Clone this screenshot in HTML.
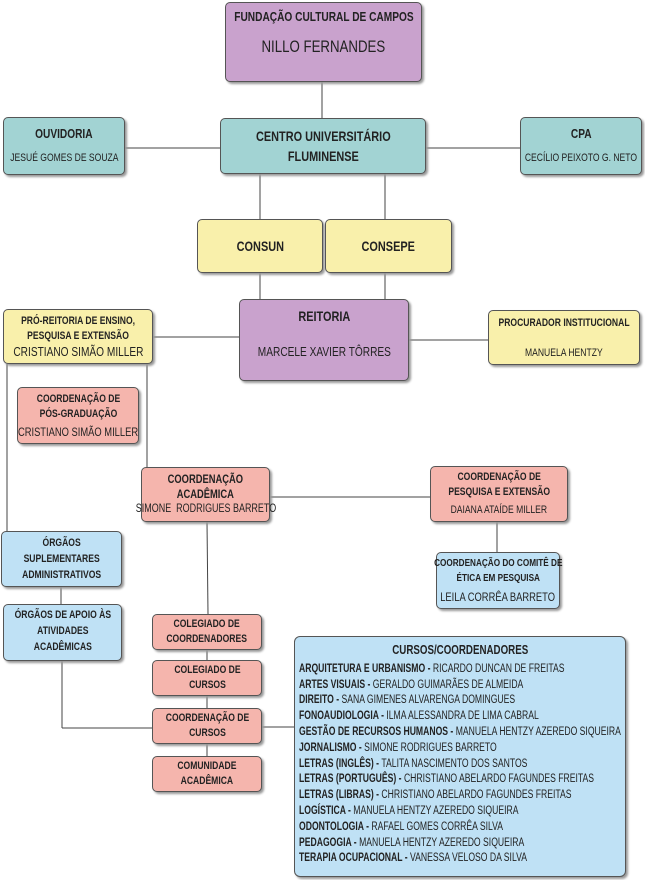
<!DOCTYPE html>
<html><head><meta charset="utf-8">
<style>
body{margin:0;width:645px;height:880px;background:#fff;position:relative;overflow:hidden;font-family:"Liberation Sans",sans-serif;color:#222}
.b{position:absolute;box-sizing:border-box;border:1.5px solid #555;border-radius:5px;box-shadow:2px 2px 2px #999;text-align:center;font-size:11px;line-height:16px;display:flex;flex-direction:column;justify-content:center;align-items:center;overflow:visible}
.b span{display:inline-block;white-space:nowrap;transform:scaleX(.78);flex-shrink:0}
.t{font-weight:bold}
.p{background:#c9a2cd}.g{background:#a2d3d3}.y{background:#f9f0ab}.r{background:#f5b5ad}.l{background:#bfe1f5}
svg{position:absolute;left:0;top:0}
.c{position:absolute;left:294px;top:636px;width:332px;height:241px;box-sizing:border-box;border:1.5px solid #555;border-radius:6px;background:#bfe1f5;box-shadow:2px 2px 2px #999;font-size:11.5px;line-height:15.8px;padding:5px 0 0 4px;white-space:nowrap}
.c .in{transform:scaleX(.75);transform-origin:0 0;width:430px}
.c b{font-weight:bold}
</style></head><body>
<svg width="645" height="880"><g stroke="#444" stroke-width="1" fill="none">
<line x1="322" y1="82" x2="322" y2="118"/>
<line x1="125" y1="148" x2="220" y2="148"/>
<line x1="426" y1="148" x2="520" y2="148"/>
<line x1="260" y1="174" x2="260" y2="219"/>
<line x1="385" y1="174" x2="385" y2="219"/>
<line x1="260" y1="273" x2="260" y2="299"/>
<line x1="385" y1="273" x2="385" y2="299"/>
<line x1="153" y1="337" x2="239" y2="337"/>
<line x1="409" y1="340" x2="488" y2="340"/>
<line x1="7" y1="364" x2="7" y2="531"/>
<line x1="147" y1="364" x2="147" y2="467"/>
<line x1="270" y1="497" x2="430" y2="497"/>
<line x1="497" y1="522" x2="497" y2="552"/>
<line x1="207" y1="522" x2="208" y2="614"/>
<line x1="207" y1="650" x2="207" y2="756"/>
<line x1="61" y1="587" x2="61" y2="604"/>
<line x1="62" y1="661" x2="62" y2="728"/>
<line x1="62" y1="728" x2="152" y2="728"/>
<line x1="262" y1="727" x2="294" y2="727"/>
</g></svg>
<div class="b p" style="left:225px;top:2px;width:197px;height:80px;justify-content:flex-start;padding-top:6px"><span class="t" style="font-size:13px">FUNDAÇÃO CULTURAL DE CAMPOS</span><span style="font-size:17px;margin-top:14px">NILLO FERNANDES</span></div>
<div class="b g" style="left:3px;top:117px;width:122px;height:58px"><span class="t" style="font-size:13px">OUVIDORIA</span><span style="margin-top:8px">JESUÉ GOMES DE SOUZA</span></div>
<div class="b g" style="left:220px;top:118px;width:206px;height:56px;font-size:14px;line-height:20px"><span class="t">CENTRO UNIVERSITÁRIO<br>FLUMINENSE</span></div>
<div class="b g" style="left:520px;top:117px;width:122px;height:58px"><span class="t" style="font-size:13px">CPA</span><span style="margin-top:8px">CECÍLIO PEIXOTO G. NETO</span></div>
<div class="b y" style="left:197px;top:219px;width:126px;height:54px"><span class="t" style="font-size:14px">CONSUN</span></div>
<div class="b y" style="left:325px;top:219px;width:127px;height:54px"><span class="t" style="font-size:14px">CONSEPE</span></div>
<div class="b p" style="left:239px;top:299px;width:170px;height:82px;justify-content:flex-start;padding-top:8px"><span class="t" style="font-size:14px">REITORIA</span><span style="font-size:13px;margin-top:20px">MARCELE XAVIER TÔRRES</span></div>
<div class="b y" style="left:3px;top:309px;width:150px;height:55px;line-height:15px"><span class="t">PRÓ-REITORIA DE ENSINO,<br>PESQUISA E EXTENSÃO</span><span style="font-size:13px">CRISTIANO SIMÃO MILLER</span></div>
<div class="b y" style="left:488px;top:310px;width:152px;height:55px"><span class="t">PROCURADOR INSTITUCIONAL</span><span style="margin-top:14px">MANUELA HENTZY</span></div>
<div class="b r" style="left:17px;top:387px;width:122px;height:57px;line-height:15px"><span class="t">COORDENAÇÃO DE<br>PÓS-GRADUAÇÃO</span><span style="font-size:12px;margin-top:3px">CRISTIANO SIMÃO MILLER</span></div>
<div class="b r" style="left:141px;top:467px;width:129px;height:55px;line-height:15px"><span class="t" style="font-size:12px">COORDENAÇÃO<br>ACADÊMICA</span><span style="font-size:11.5px">SIMONE &nbsp;RODRIGUES BARRETO</span></div>
<div class="b r" style="left:430px;top:466px;width:138px;height:56px;line-height:15px"><span class="t">COORDENAÇÃO DE<br>PESQUISA E EXTENSÃO</span><span style="margin-top:3px">DAIANA ATAÍDE MILLER</span></div>
<div class="b l" style="left:436px;top:552px;width:124px;height:57px;line-height:15px"><span class="t" style="font-size:10.5px">COORDENAÇÃO DO COMITÊ DE<br>ÉTICA EM PESQUISA</span><span style="margin-top:4px;font-size:12px">LEILA CORRÊA BARRETO</span></div>
<div class="b l" style="left:1px;top:531px;width:121px;height:56px"><span class="t">ÓRGÃOS<br>SUPLEMENTARES<br>ADMINISTRATIVOS</span></div>
<div class="b l" style="left:3px;top:604px;width:119px;height:57px;justify-content:flex-start;padding-top:2px"><span class="t">ÓRGÃOS DE APOIO ÀS<br>ATIVIDADES<br>ACADÊMICAS</span></div>
<div class="b r" style="left:152px;top:614px;width:110px;height:36px;line-height:15px"><span class="t">COLEGIADO DE<br>COORDENADORES</span></div>
<div class="b r" style="left:152px;top:660px;width:110px;height:36px;line-height:15px"><span class="t">COLEGIADO DE<br>CURSOS</span></div>
<div class="b r" style="left:152px;top:708px;width:110px;height:36px;line-height:15px"><span class="t">COORDENAÇÃO DE<br>CURSOS</span></div>
<div class="b r" style="left:152px;top:756px;width:110px;height:36px;line-height:15px"><span class="t">COMUNIDADE<br>ACADÊMICA</span></div>
<div class="c"><div class="in">
<div style="text-align:center;font-weight:bold;font-size:13px;margin-bottom:4px;width:430px">CURSOS/COORDENADORES</div>
<div><b>ARQUITETURA E URBANISMO - </b> RICARDO DUNCAN DE FREITAS</div>
<div><b>ARTES VISUAIS - </b>GERALDO GUIMARÃES DE ALMEIDA</div>
<div><b>DIREITO - </b>SANA GIMENES ALVARENGA DOMINGUES</div>
<div><b>FONOAUDIOLOGIA - </b>ILMA ALESSANDRA DE LIMA CABRAL</div>
<div><b>GESTÃO DE RECURSOS HUMANOS - </b>MANUELA HENTZY AZEREDO SIQUEIRA</div>
<div><b>JORNALISMO - </b>SIMONE RODRIGUES BARRETO</div>
<div><b>LETRAS (INGLÊS) - </b>TALITA NASCIMENTO DOS SANTOS</div>
<div><b>LETRAS (PORTUGUÊS) - </b>CHRISTIANO ABELARDO FAGUNDES FREITAS</div>
<div><b>LETRAS (LIBRAS) - </b> CHRISTIANO ABELARDO FAGUNDES FREITAS</div>
<div><b>LOGÍSTICA - </b>MANUELA HENTZY AZEREDO SIQUEIRA</div>
<div><b>ODONTOLOGIA - </b>RAFAEL GOMES CORRÊA SILVA</div>
<div><b>PEDAGOGIA - </b>MANUELA HENTZY AZEREDO SIQUEIRA</div>
<div><b>TERAPIA OCUPACIONAL - </b>VANESSA VELOSO DA SILVA</div>
</div></div>
</body></html>
